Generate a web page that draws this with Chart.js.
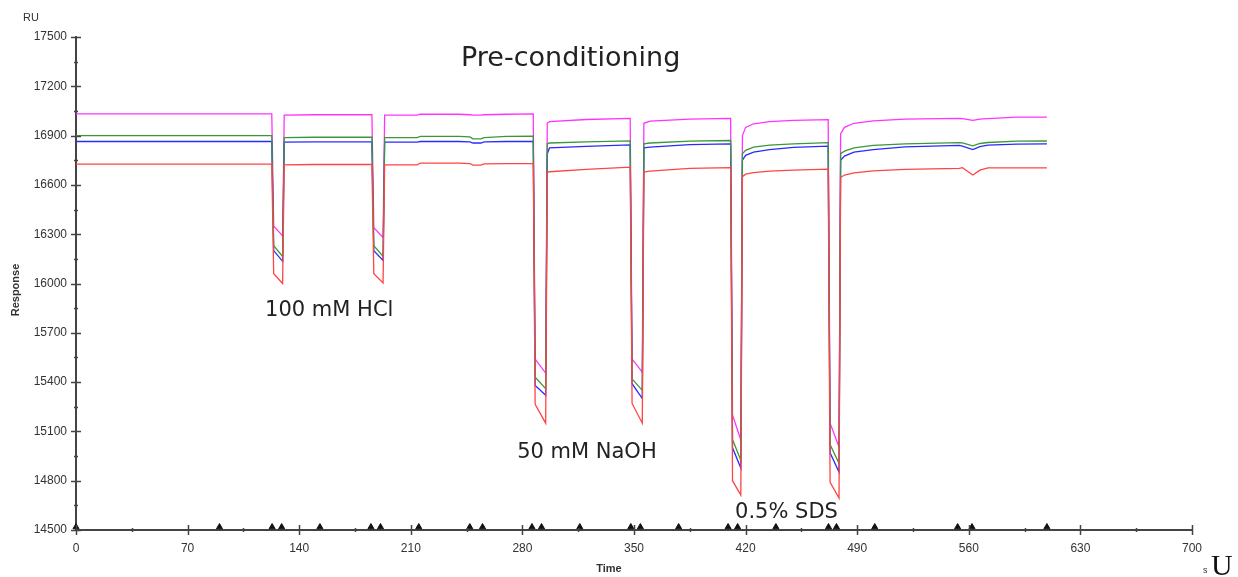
<!DOCTYPE html>
<html>
<head>
<meta charset="utf-8">
<script src="https://cdn.jsdelivr.net/npm/chart.js@4.4.1/dist/chart.umd.min.js"></script>
<style>
  html, body { margin: 0; padding: 0; background: #fff; }
  #wrap { width: 1238px; height: 577px; position: relative; }
</style>
</head>
<body>
<div id="wrap"><canvas id="sensorgram"></canvas></div>
<script>
// time (s) and response (RU)
const time    = [0, 122.8, 124, 129.6, 130.6, 150, 185.6, 186.8, 192.6, 193.6, 214, 216, 240, 247, 249, 254, 256, 270,
                 286.8, 288, 294.6, 295.6, 297, 320, 347.6, 348.8, 355.2, 356.2, 360, 385,
                 410.6, 411.8, 417, 418, 420, 425, 435, 450, 471.8, 473, 478.6, 479.6, 482, 488, 500, 520,
                 554, 556, 562.5, 567, 572, 590, 609];
const magenta = [17032, 17032, 16350, 16290, 17025, 17027, 17027, 16340, 16280, 17025, 17025, 17030, 17030, 17027, 17025, 17025, 17027, 17030,
                 17032, 15540, 15455, 16975, 16985, 16998, 17005, 15540, 15460, 16975, 16988, 17000,
                 17005, 15200, 15048, 16900, 16950, 16972, 16985, 16993, 16997, 15150, 15005, 16910, 16950, 16975, 16990, 17000,
                 17005, 17003, 16993, 17000, 17003, 17012, 17013];
const green   = [16900, 16900, 16230, 16165, 16888, 16890, 16890, 16230, 16165, 16888, 16888, 16895, 16895, 16892, 16880, 16880, 16888, 16895,
                 16896, 15430, 15360, 16850, 16855, 16862, 16868, 15420, 15350, 16850, 16855, 16866,
                 16870, 15050, 14925, 16790, 16810, 16830, 16842, 16850, 16857, 15020, 14905, 16790, 16805, 16825, 16840, 16850,
                 16857, 16856, 16838, 16852, 16858, 16866, 16867];
const blue    = [16864, 16864, 16200, 16135, 16860, 16862, 16862, 16200, 16140, 16860, 16860, 16864, 16864, 16862, 16855, 16855, 16862, 16864,
                 16865, 15380, 15320, 16790, 16825, 16835, 16843, 15390, 15300, 16825, 16830, 16845,
                 16850, 15000, 14877, 16750, 16780, 16800, 16815, 16828, 16836, 14970, 14853, 16750, 16775, 16800, 16815, 16832,
                 16840, 16836, 16815, 16833, 16842, 16848, 16850];
const red     = [16727, 16727, 16060, 16000, 16722, 16724, 16724, 16060, 16003, 16722, 16722, 16733, 16733, 16730, 16720, 16720, 16728, 16730,
                 16730, 15265, 15150, 16675, 16680, 16695, 16708, 15270, 15150, 16678, 16684, 16700,
                 16705, 14800, 14713, 16650, 16665, 16675, 16684, 16690, 16696, 14790, 14695, 16645, 16660, 16673, 16685, 16695,
                 16700, 16705, 16660, 16690, 16703, 16703, 16703];

// injection event markers along the time axis
const events = [0, 90, 123, 129, 153, 185, 191, 215, 247, 255, 286, 292, 316, 348, 354, 378,
                409, 415, 439, 472, 477, 501, 553, 562, 609];
const markerLevel = 14518;

// text placed in data coordinates (t, RU at baseline)
const notes = [
  { text: 'Pre-conditioning', t: 241.5, v: 17323, size: 27 },
  { text: '100 mM HCl', t: 118.6, v: 15802, size: 21 },
  { text: '50 mM NaOH', t: 276.7, v: 14938, size: 21 },
  { text: '0.5% SDS', t: 413.4, v: 14573, size: 21 }
];

const pts = (arr) => arr.map((v, i) => ({ x: time[i], y: v }));

const axisDecor = {
  id: 'axisDecor',
  afterDraw(chart) {
    const { ctx, chartArea: a, scales: { x, y } } = chart;
    ctx.save();
    ctx.strokeStyle = '#444';
    ctx.lineWidth = 1.5;
    ctx.beginPath();
    for (let v = 14500; v <= 17500; v += 150) {
      const py = Math.round(y.getPixelForValue(v)) + 0.5;
      const len = (v - 14500) % 300 === 0 ? 5 : 2;
      ctx.moveTo(a.left - len, py);
      ctx.lineTo(a.left + len, py);
    }
    for (let t = 0; t <= 700; t += 35) {
      const px = Math.round(x.getPixelForValue(t)) + 0.5;
      const len = t % 70 === 0 ? 5 : 2;
      ctx.moveTo(px, a.bottom - len);
      ctx.lineTo(px, a.bottom + len);
    }
    ctx.stroke();

    ctx.fillStyle = '#222';
    ctx.textBaseline = 'alphabetic';
    ctx.textAlign = 'left';
    notes.forEach(n => {
      ctx.font = n.size + 'px "DejaVu Sans"';
      ctx.fillText(n.text, x.getPixelForValue(n.t), y.getPixelForValue(n.v));
    });

    ctx.fillStyle = '#333';
    ctx.font = '11px "Liberation Sans"';
    ctx.fillText('RU', 23, 21);

    ctx.font = 'bold 11px "Liberation Sans"';
    ctx.textAlign = 'center';
    ctx.fillText('Time', 609, 572);
    ctx.save();
    ctx.translate(19, 290);
    ctx.rotate(-Math.PI / 2);
    ctx.fillText('Response', 0, 0);
    ctx.restore();

    ctx.textAlign = 'left';
    ctx.font = '9px "Liberation Sans"';
    ctx.fillText('s', 1203, 573);
    ctx.fillStyle = '#111';
    ctx.font = '30px "Liberation Serif"';
    ctx.fillText('U', 1211, 575);
    ctx.restore();
  }
};

const plain = (v) => String(v);

new Chart(document.getElementById('sensorgram'), {
  type: 'line',
  data: {
    datasets: [
      { label: 'Fc1', data: pts(red), borderColor: '#ff4444' },
      { label: 'Fc2', data: pts(green), borderColor: '#3a983a' },
      { label: 'Fc3', data: pts(blue), borderColor: '#2a2aff' },
      { label: 'Fc4', data: pts(magenta), borderColor: '#ff33ff' },
      {
        type: 'scatter', label: 'events',
        data: events.map(t => ({ x: t, y: markerLevel })),
        pointStyle: 'triangle', pointRadius: 3.5, backgroundColor: '#111', borderColor: '#111',
        borderWidth: 1, clip: false
      }
    ]
  },
  options: {
    responsive: true,
    maintainAspectRatio: false,
    animation: false,
    layout: { padding: { top: 37, right: 46, left: 0, bottom: 0 } },
    elements: {
      line: { borderWidth: 1.3, tension: 0, fill: false },
      point: { radius: 0 }
    },
    plugins: { legend: { display: false }, tooltip: { enabled: false } },
    scales: {
      x: {
        type: 'linear', min: 0, max: 700,
        grid: { display: false, drawTicks: false },
        border: { display: true, color: '#444', width: 2 },
        ticks: { stepSize: 70, padding: 11, color: '#333', callback: plain,
                 font: { family: 'Liberation Sans', size: 12 } },
        afterFit: (s) => { s.height = 47; }
      },
      y: {
        min: 14500, max: 17500,
        grid: { display: false, drawTicks: false },
        border: { display: true, color: '#444', width: 2 },
        ticks: { stepSize: 300, padding: 9, color: '#333', callback: plain,
                 font: { family: 'Liberation Sans', size: 12 } },
        afterFit: (s) => { s.width = 76; }
      }
    }
  },
  plugins: [axisDecor]
});
</script>
</body>
</html>
